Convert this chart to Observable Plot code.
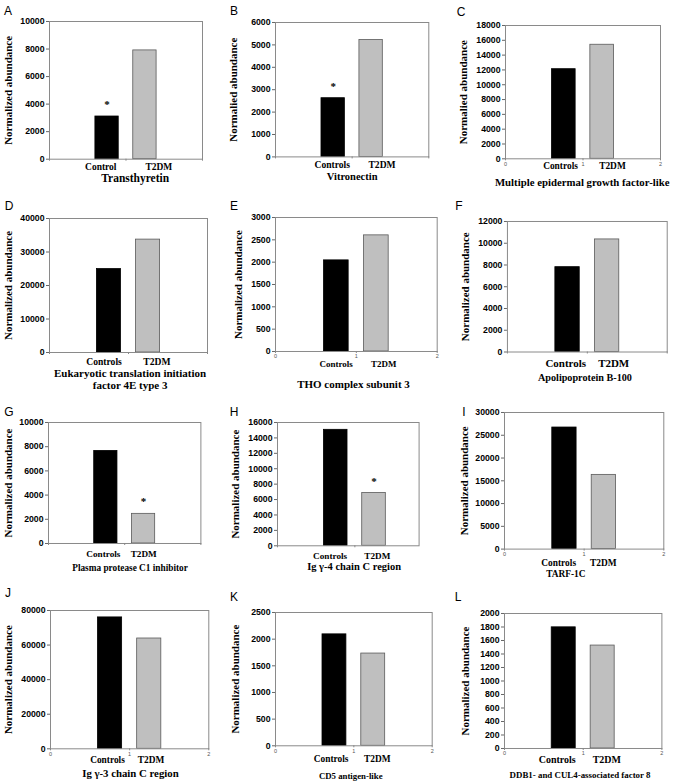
<!DOCTYPE html>
<html><head><meta charset="utf-8">
<script src="https://cdn.jsdelivr.net/npm/d3@7"></script>
<script src="https://cdn.jsdelivr.net/npm/@observablehq/plot@0.6"></script>
<style>
body{margin:0;background:#fff;}
#fig{position:relative;width:677px;height:784px;overflow:hidden;background:#fff;}
.panel{position:absolute;}
.panel svg{overflow:visible;}
.letter{position:absolute;font-family:"Liberation Sans",Arial,sans-serif;font-size:12px;line-height:1;transform:translate(-50%,-50%);color:#000;}
</style></head><body><div id="fig"></div>
<script>
// ---- data ----
const panelLetters = ["A","B","C","D","E","F","G","H","I","J","K","L"];
const proteins = [
  "Transthyretin",
  "Vitronectin",
  "Multiple epidermal growth factor-like",
  "Eukaryotic translation initiation\nfactor 4E type 3",
  "THO complex subunit 3",
  "Apolipoprotein B-100",
  "Plasma protease C1 inhibitor",
  "Ig γ-4 chain C region",
  "TARF-1C",
  "Ig γ-3 chain C region",
  "CD5 antigen-like",
  "DDB1- and CUL4-associated factor 8"
];
const controlNames = ["Control","Controls","Controls","Controls","Controls","Controls","Controls","Controls","Controls","Controls","Controls","Controls"];
const t2dmName = "T2DM";
const controlValues = [3100, 2620, 12100, 24900, 2040, 7800, 7650, 15050, 26700, 76000, 2090, 1795];
const t2dmValues    = [7900, 5220, 15400, 33700, 2600, 10350, 2450, 6850, 16300, 63800, 1730, 1525];
const starGroup = [0, 0, null, null, null, null, 1, 1, null, null, null, null];
const yMax  = [10000, 6000, 18000, 40000, 3000, 12000, 10000, 16000, 30000, 80000, 2500, 2000];
const yStep = [2000, 1000, 2000, 10000, 500, 2000, 2000, 2000, 5000, 20000, 500, 200];
const yTitles = ["Normalized abundance","Normalied abundance","Normalied abundance","Normalized abundance","Normalized abundance","Normalized abundance","Normalized abundance","Normalized abundance","Normalized abundance","Normalized abundance","Normalized abundance","Normalized abundance"];
const indexTickLabels = [false,false,true,false,true,false,false,false,true,true,true,true];
const indexTicks = [0, 1, 2];

// ---- layout (positions / sizes) ----
const frames = [
  [49.3,21,202.3,158.7],[275,22.3,428.3,156.7],[505,25,660,158.3],
  [49.3,218.3,207.3,352.3],[275,216.7,436.7,350.7],[507.3,221,667.3,351.7],
  [48.3,422.3,200.7,543.3],[276.7,421.7,418.3,545],[504,411.7,663.3,548.3],
  [50,610,208.3,748.3],[275,611.7,431.7,745],[504.3,613.3,661.7,748.3]
];
const xMax = [2,2,2,2,2,2,2,1.83,2,2,2,2];
const letterPos = [[8,11],[234,11],[461,12],[9,206],[234,206],[459,206],[9,412],[234,412],[464,412],[8,593],[234,597],[458,597]];
const catX = [[0.67,1.43],[0.74,1.39],[0.71,1.38],[0.69,1.36],[0.75,1.34],[0.73,1.33],[0.72,1.25],[0.68,1.29],[0.68,1.24],[0.72,1.27],[0.71,1.30],[0.67,1.30]];
const catDy = [7.5,8.3,7,9.4,12.6,11,10.7,10,14,11,13.3,11];
const catSize = [9.5,9.6,9.4,9.6,9,11,9.2,9.2,9.4,9.4,9.4,10];
const titleX = [1.12,1.0,0.99,1.02,0.965,0.97,1.07,0.99,0.77,1.01,0.96,0.96];
const titleDy = [19.3,20,23.4,21,32.6,25.6,25,21,25,24.4,30,26.7];
const titleLineGap = 11.7;
const titleSize = [11.5,10.5,10.8,11,11,10.2,9.3,10.5,9.4,10.8,8.8,8.9];
const yTitleDx = [-41,-41.7,-41.7,-41,-37,-42,-40,-41.7,-40,-41.7,-40,-39.3];

const SERIF = "'Liberation Serif','Times New Roman',serif";
const SANS = "'Liberation Sans',Arial,sans-serif";
const barCenters = [0.7525, 1.2475];
const halfW = 0.1525;
const fig = document.getElementById("fig");

panelLetters.forEach((letter, i) => {
  const [fl, ft, fr, fb] = frames[i];
  const mL = 52, mT = 10, mR = 10, mB = 46;
  const width = (fr - fl) + mL + mR;
  const height = (fb - ft) + mT + mB;
  const rows = [0, 1].map(j => ({
    j,
    name: j ? t2dmName : controlNames[i],
    value: j ? t2dmValues[i] : controlValues[i]
  }));
  const yTicks = d3.range(0, yMax[i] + yStep[i] / 2, yStep[i]);
  const xTicks = indexTicks.filter(t => t <= xMax[i]);
  const titleLines = proteins[i].split("\n");
  const titleMarks = titleLines.map((line, k) => Plot.text([line], {
    x: () => titleX[i], text: d => d, frameAnchor: "bottom",
    dy: titleDy[i] + k * titleLineGap, lineAnchor: "middle",
    fontFamily: SERIF, fontWeight: "bold", fontSize: titleSize[i], fill: "#000"
  }));
  const marks = [
    Plot.rectY(rows.filter(d => d.j === 0), {
      x1: d => barCenters[d.j] - halfW, x2: d => barCenters[d.j] + halfW,
      y1: () => 0, y2: "value", fill: "#000", stroke: "#000", strokeWidth: 0.8
    }),
    Plot.rectY(rows.filter(d => d.j === 1), {
      x1: d => barCenters[d.j] - halfW, x2: d => barCenters[d.j] + halfW,
      y1: () => 0, y2: "value", fill: "#bfbfbf", stroke: "#5a5a5a", strokeWidth: 0.8
    }),
    Plot.frame({stroke: "#8a8a8a", strokeWidth: 1}),
    Plot.axisY({
      ticks: yTicks, tickSize: 3, tickPadding: 2, label: null,
      tickFormat: d => String(d), stroke: "#666",
      fontSize: 8.7, fontWeight: "bold", fontFamily: SANS, fill: "#000"
    }),
    Plot.axisX({
      ticks: xTicks, tickSize: 2, tickPadding: 1, label: null,
      tickFormat: indexTickLabels[i] ? (d => String(d)) : (() => ""),
      stroke: "#888", fontSize: 5.5, fontFamily: SANS, fontWeight: "normal", fill: "#555"
    }),
    Plot.text(rows, {
      x: d => catX[i][d.j], text: "name", frameAnchor: "bottom", dy: catDy[i],
      lineAnchor: "middle",
      fontFamily: SERIF, fontWeight: "bold", fontSize: catSize[i], fill: "#000"
    }),
    ...titleMarks,
    Plot.text([yTitles[i]], {
      text: d => d, frameAnchor: "left", textAnchor: "middle", lineAnchor: "middle",
      rotate: -90, dx: yTitleDx[i],
      fontFamily: SERIF, fontWeight: "bold", fontSize: 11, fill: "#000"
    }),
    Plot.text(rows.filter(d => d.j === starGroup[i]), {
      x: d => barCenters[d.j], y: "value", text: () => "*", dy: -12,
      fontFamily: SERIF, fontWeight: "bold", fontSize: 11, fill: "#000"
    })
  ];
  const chart = Plot.plot({
    width, height,
    marginLeft: mL, marginTop: mT, marginRight: mR, marginBottom: mB,
    x: {domain: [0, xMax[i]]},
    y: {domain: [0, yMax[i]]},
    style: {background: "transparent", overflow: "visible", fontFamily: SANS, fontWeight: "bold", fontSize: "8.7px"},
    marks
  });
  const wrap = document.createElement("div");
  wrap.className = "panel";
  wrap.style.left = (fl - mL) + "px";
  wrap.style.top = (ft - mT) + "px";
  wrap.appendChild(chart);
  fig.appendChild(wrap);

  const lab = document.createElement("div");
  lab.className = "letter";
  lab.textContent = letter;
  lab.style.left = letterPos[i][0] + "px";
  lab.style.top = letterPos[i][1] + "px";
  fig.appendChild(lab);
});
</script></body></html>
